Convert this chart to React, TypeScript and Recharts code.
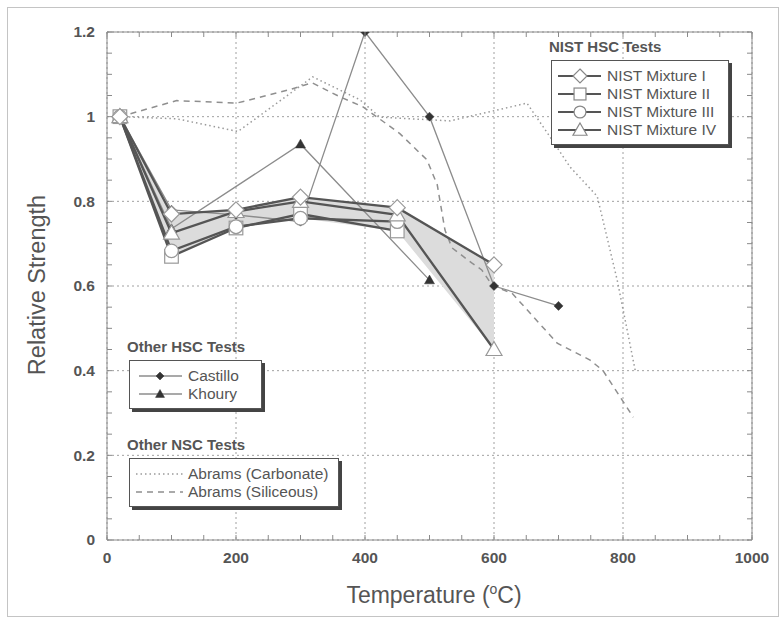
import React from "react";
import { ComposedChart, Line, Area, XAxis, YAxis, CartesianGrid, ReferenceLine } from "recharts";

// NIST HSC mixtures
const nistTemps = [20, 100, 200, 300, 450, 600];
const mixtureI = [1.0, 0.77, 0.78, 0.81, 0.785, 0.65];
const mixtureII = [1.0, 0.67, 0.737, 0.77, 0.73];
const mixtureIII = [1.0, 0.683, 0.74, 0.76, 0.752];
const mixtureIV = [1.0, 0.725, 0.776, 0.8, 0.768, 0.45];

// other HSC tests
const castilloTemps = [20, 100, 200, 300, 400, 500, 600, 700];
const castilloValues = [1.0, 0.78, 0.768, 0.752, 1.2, 1.0, 0.6, 0.553];
const khouryTemps = [20, 100, 300, 500];
const khouryValues = [1.0, 0.735, 0.935, 0.614];

// other NSC tests
const carbonateTemps = [20, 108, 203, 232, 319, 392, 423, 532, 651, 687, 718, 760, 791, 819];
const carbonateValues = [1.0, 0.995, 0.965, 0.997, 1.094, 1.04, 0.999, 0.99, 1.032, 0.952, 0.881, 0.812, 0.614, 0.4];
const siliceousTemps = [20, 108, 201, 281, 318, 361, 397, 454, 496, 512, 524, 535, 566, 581, 598, 628, 698, 749, 769, 816];
const siliceousValues = [1.0, 1.038, 1.032, 1.063, 1.08, 1.047, 1.023, 0.96, 0.898, 0.839, 0.732, 0.69, 0.654, 0.638, 0.6, 0.583, 0.465, 0.425, 0.4, 0.29];

const xTicks = [0, 200, 400, 600, 800, 1000];
const yTicks = [0, 0.2, 0.4, 0.6, 0.8, 1, 1.2];
const xMinor = Array.from({ length: 21 }, (_, i) => i * 50);
const yMinor = Array.from({ length: 25 }, (_, i) => Math.round(i * 5) / 100);

const pts = (xs: number[], ys: number[]) => ys.map((y, i) => ({ x: xs[i], y }));

const mixtures = [mixtureI, mixtureII, mixtureIII, mixtureIV];
const envelope = nistTemps.map((t, i) => {
  const vals = mixtures.map((m) => m[i]).filter((v) => v !== undefined);
  return { x: t, range: [Math.min(...vals), Math.max(...vals)] };
});

const FONT = '"Liberation Sans", Arial, sans-serif';
const AXIS = "#8a8a8a";
const TEXT = "#555";

// chart layout
const W = 783;
const H = 621;
const MARGIN = { top: 32, right: 31, bottom: 51, left: 47 };
const X_AXIS_H = 30;
const Y_AXIS_W = 60;
const PLOT_TOP = MARGIN.top;
const PLOT_BOTTOM = H - MARGIN.bottom - X_AXIS_H;
const PLOT_LEFT = MARGIN.left + Y_AXIS_W;
const PLOT_RIGHT = W - MARGIN.right;
const TICK = 5;

type Shape = "diamond" | "square" | "circle" | "triangle";

function marker(shape: Shape, cx: number, cy: number, r: number, fill: string, stroke: string, sw = 1.2, key?: any) {
  const common = { fill, stroke, strokeWidth: sw, key };
  if (shape === "diamond")
    return <path {...common} d={`M${cx} ${cy - r}L${cx + r} ${cy}L${cx} ${cy + r}L${cx - r} ${cy}Z`} />;
  if (shape === "square")
    return <rect {...common} x={cx - r * 0.85} y={cy - r * 0.85} width={r * 1.7} height={r * 1.7} />;
  if (shape === "circle") return <circle {...common} cx={cx} cy={cy} r={r * 0.85} />;
  return <path {...common} d={`M${cx} ${cy - r}L${cx + r} ${cy + r * 0.75}L${cx - r} ${cy + r * 0.75}Z`} />;
}

const dot = (shape: Shape, r: number, fill: string, stroke: string, sw = 1.2) => (p: any) => {
  if (p.cx == null || p.cy == null) return <g key={p.index} />;
  return marker(shape, p.cx, p.cy, r, fill, stroke, sw, p.index);
};

const labelStyle = { fill: TEXT, fontSize: 15.5, fontWeight: "bold" as const, fontFamily: FONT };

// ticks point inward on all four sides, labels only on the major values
const XTick = (p: any) => {
  const v = p.payload.value;
  return (
    <g>
      <line x1={p.x} x2={p.x} y1={PLOT_BOTTOM} y2={PLOT_BOTTOM - TICK} stroke={AXIS} />
      <line x1={p.x} x2={p.x} y1={PLOT_TOP} y2={PLOT_TOP + TICK} stroke={AXIS} />
      {v % 200 === 0 && (
        <text x={p.x} y={p.y} dy="0.71em" textAnchor="middle" {...labelStyle}>
          {v}
        </text>
      )}
    </g>
  );
};

const YTick = (p: any) => {
  const v = p.payload.value;
  const major = Math.abs(v * 5 - Math.round(v * 5)) < 1e-6;
  return (
    <g>
      <line x1={PLOT_LEFT} x2={PLOT_LEFT + TICK} y1={p.y} y2={p.y} stroke={AXIS} />
      <line x1={PLOT_RIGHT} x2={PLOT_RIGHT - TICK} y1={p.y} y2={p.y} stroke={AXIS} />
      {major && (
        <text x={p.x} y={p.y} dy="0.35em" textAnchor="end" {...labelStyle}>
          {Math.round(v * 10) / 10}
        </text>
      )}
    </g>
  );
};

type Row = { label: string; sample: React.ReactNode };

function LegendBox({ left, top, width, sampleWidth, title, rows }: { left: number; top: number; width: number; sampleWidth: number; title: string; rows: Row[] }) {
  return (
    <div style={{ position: "absolute", left, top, fontFamily: FONT, color: TEXT }}>
      <div style={{ fontWeight: "bold", fontSize: 15, marginLeft: -2, lineHeight: "18px" }}>{title}</div>
      <div
        style={{
          marginTop: 4,
          width,
          border: "1px solid #555",
          background: "#fff",
          boxShadow: "3px 3px 0 #444",
          padding: "6px 0 5px 0",
        }}
      >
        {rows.map((r) => (
          <div key={r.label} style={{ display: "flex", alignItems: "center", height: 18, fontSize: 15.5 }}>
            <svg width={sampleWidth} height={18} style={{ marginLeft: 2, marginRight: 2 }}>
              {r.sample}
            </svg>
            <span>{r.label}</span>
          </div>
        ))}
      </div>
    </div>
  );
}

const nistSample = (shape: Shape) => (
  <g>
    <line x1={4} x2={47} y1={9} y2={9} stroke="#555" strokeWidth={2} />
    {marker(shape, 26, 9, 7, "#fff", "#888", 1.2)}
  </g>
);

export default function App() {
  return (
    <div style={{ position: "absolute", left: 0, top: 0, width: W, height: H, background: "#fff", fontFamily: FONT }}>
      <div style={{ position: "absolute", left: 7, top: 7, width: 770, height: 608, border: "1px solid #c4c4c4" }} />
      <ComposedChart width={W} height={H} margin={MARGIN}>
        <CartesianGrid stroke="#a0a0a0" strokeDasharray="2 3" horizontalValues={yTicks} verticalValues={xTicks} />
        <XAxis
          type="number"
          dataKey="x"
          domain={[0, 1000]}
          ticks={xMinor}
          interval={0}
          height={X_AXIS_H}
          allowDataOverflow
          tickLine={false}
          tickSize={0}
          tickMargin={12}
          stroke={AXIS}
          tick={XTick}
        />
        <YAxis
          type="number"
          domain={[0, 1.2]}
          ticks={yMinor}
          interval={0}
          width={Y_AXIS_W}
          allowDataOverflow
          tickLine={false}
          tickSize={0}
          tickMargin={12}
          stroke={AXIS}
          tick={YTick}
        />
        <ReferenceLine y={1.2} stroke={AXIS} />
        <ReferenceLine x={1000} stroke={AXIS} />

        <Area data={envelope} dataKey="range" type="linear" fill="#dcdcdc" fillOpacity={1} stroke="none" isAnimationActive={false} />

        <Line data={pts(carbonateTemps, carbonateValues)} dataKey="y" type="linear" stroke="#9a9a9a" strokeWidth={1.5} strokeDasharray="1.5 3" dot={false} isAnimationActive={false} />
        <Line data={pts(siliceousTemps, siliceousValues)} dataKey="y" type="linear" stroke="#8f8f8f" strokeWidth={1.5} strokeDasharray="6 5" dot={false} isAnimationActive={false} />

        <Line data={pts(castilloTemps, castilloValues)} dataKey="y" type="linear" stroke="#8c8c8c" strokeWidth={1.3} dot={dot("diamond", 4.5, "#333", "#333", 0.5)} isAnimationActive={false} />
        <Line data={pts(khouryTemps, khouryValues)} dataKey="y" type="linear" stroke="#8c8c8c" strokeWidth={1.3} dot={dot("triangle", 5, "#333", "#333", 0.5)} isAnimationActive={false} />

        <Line data={pts(nistTemps, mixtureII)} dataKey="y" type="linear" stroke="#555" strokeWidth={2.3} dot={dot("square", 8, "#fff", "#999")} isAnimationActive={false} />
        <Line data={pts(nistTemps, mixtureIII)} dataKey="y" type="linear" stroke="#555" strokeWidth={2.3} dot={dot("circle", 8, "#fff", "#999")} isAnimationActive={false} />
        <Line data={pts(nistTemps, mixtureIV)} dataKey="y" type="linear" stroke="#555" strokeWidth={2.3} dot={dot("triangle", 8, "#fff", "#999")} isAnimationActive={false} />
        <Line data={pts(nistTemps, mixtureI)} dataKey="y" type="linear" stroke="#555" strokeWidth={2.3} dot={dot("diamond", 8, "#fff", "#999")} isAnimationActive={false} />
      </ComposedChart>

      <LegendBox
        left={551}
        top={38}
        width={176}
        sampleWidth={51}
        title="NIST HSC Tests"
        rows={[
          { label: "NIST Mixture I", sample: nistSample("diamond") },
          { label: "NIST Mixture II", sample: nistSample("square") },
          { label: "NIST Mixture III", sample: nistSample("circle") },
          { label: "NIST Mixture IV", sample: nistSample("triangle") },
        ]}
      />
      <LegendBox
        left={129}
        top={338}
        width={131}
        sampleWidth={54}
        title="Other HSC Tests"
        rows={[
          {
            label: "Castillo",
            sample: (
              <g>
                <line x1={7} x2={50} y1={9} y2={9} stroke="#8c8c8c" strokeWidth={1.3} />
                {marker("diamond", 28, 9, 4, "#333", "#333", 0.5)}
              </g>
            ),
          },
          {
            label: "Khoury",
            sample: (
              <g>
                <line x1={7} x2={50} y1={9} y2={9} stroke="#8c8c8c" strokeWidth={1.3} />
                {marker("triangle", 28, 9, 4.5, "#333", "#333", 0.5)}
              </g>
            ),
          },
        ]}
      />
      <LegendBox
        left={129}
        top={436}
        width={208}
        sampleWidth={54}
        title="Other NSC Tests"
        rows={[
          { label: "Abrams (Carbonate)", sample: <line x1={4} x2={51} y1={9} y2={9} stroke="#9a9a9a" strokeWidth={1.5} strokeDasharray="1.5 3" /> },
          { label: "Abrams (Siliceous)", sample: <line x1={4} x2={51} y1={9} y2={9} stroke="#8f8f8f" strokeWidth={1.5} strokeDasharray="6 5" /> },
        ]}
      />

      <div style={{ position: "absolute", left: 434, top: 581, transform: "translateX(-50%)", fontSize: 23, color: TEXT, whiteSpace: "nowrap" }}>
        Temperature (<sup style={{ fontSize: 14 }}>o</sup>C)
      </div>
      <div style={{ position: "absolute", left: 37, top: 285, transform: "translate(-50%, -50%) rotate(-90deg)", fontSize: 23.5, color: TEXT, whiteSpace: "nowrap" }}>
        Relative Strength
      </div>
    </div>
  );
}
